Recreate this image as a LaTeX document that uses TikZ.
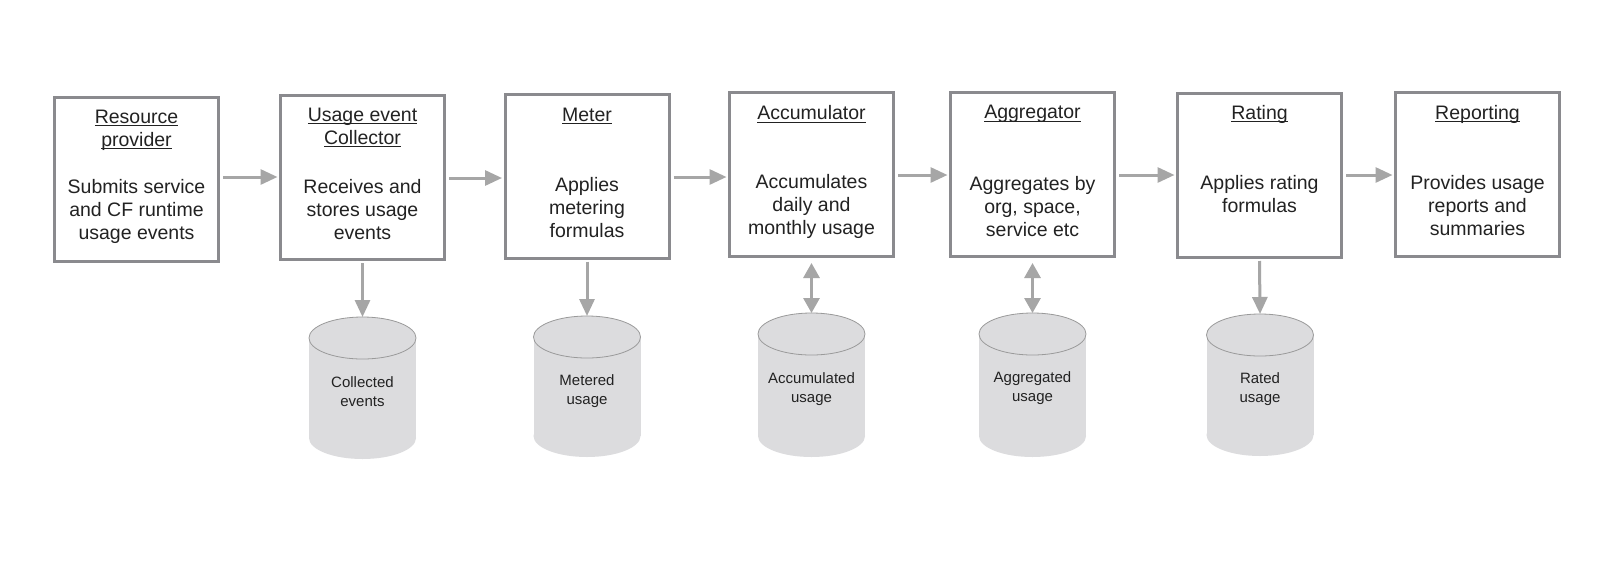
\documentclass[tikz,border=0pt]{standalone}
\usepackage{fontspec}
\setmainfont{Liberation Sans}
\usetikzlibrary{arrows.meta}
\definecolor{boxgray}{HTML}{8A8A8E}
\definecolor{arrgray}{HTML}{A6A6A6}
\definecolor{cylfill}{HTML}{DCDCDE}
\definecolor{cylline}{HTML}{9A9A9A}
\definecolor{txt}{HTML}{222222}
\newcommand\myul[1]{\setbox0\hbox{#1}\rlap{\rule[-3pt]{\wd0}{0.9pt}}\box0}
\newcommand\drawcyl[6]{%
  \fill[cylfill] (#2-53.5,#3+21) rectangle (#2+53.5,#4-21);
  \fill[cylfill] (#2,#4-21) ellipse[x radius=53.5, y radius=21];
  \filldraw[fill=cylfill, draw=cylline, line width=0.8pt] (#2,#3+21) ellipse[x radius=53.5, y radius=21];
  \coordinate (#1top) at (#2,#3);
  \node[cyltext] (#1) at (#2,#5) {#6};
}
\tikzset{
  procbox/.style={draw=boxgray, line width=3pt, minimum width=164pt, minimum height=164pt, inner sep=0pt},
  titletext/.style={align=center, text=txt, font=\fontsize{19.5}{23}\selectfont, inner sep=0pt},
  bodytext/.style={align=center, text=txt, font=\fontsize{19.5}{23}\selectfont, inner sep=0pt},
  cyltext/.style={align=center, text=txt, font=\fontsize{15}{19}\selectfont, inner sep=0pt},
  flow/.style={draw=arrgray, line width=3pt, -{Triangle[length=17pt,width=15pt]}},
  biflow/.style={draw=arrgray, line width=3pt, {Triangle[length=15pt,width=16pt]}-{Triangle[length=15pt,width=16pt]}},
}
\begin{document}
\begin{tikzpicture}[x=1pt,y=-1pt]
\fill[white] (0,0) rectangle (1600,560);
\useasboundingbox (0,0) rectangle (1600,560);

% cylinders
\drawcyl{c1}{362.5}{317}{459}{392}{Collected\\events}
\drawcyl{c2}{587}{316}{457}{391}{Metered\\usage}
\drawcyl{c3}{811.5}{313}{457}{389.5}{Accumulated\\usage}
\drawcyl{c4}{1032.5}{313}{457}{388.5}{Aggregated\\usage}
\drawcyl{c5}{1260}{314}{456}{389.5}{Rated\\usage}

% boxes
\node[procbox] (b1) at (136.5,179.5) {};
\node[procbox] (b2) at (362.5,177.5) {};
\node[procbox] (b3) at (587,176) {};
\node[procbox] (b4) at (811.5,174.5) {};
\node[procbox] (b5) at (1032.5,174.5) {};
\node[procbox] (b6) at (1259.5,175.5) {};
\node[procbox] (b7) at (1477.5,174) {};

% titles
\node[titletext] (t1) at (136.5,130) {\myul{Resource}\\\myul{provider}};
\node[titletext] (t2) at (362.5,127.5) {\myul{Usage event}\\\myul{Collector}};
\node[titletext] (t3) at (587,116) {\myul{Meter}};
\node[titletext] (t4) at (811.5,114) {\myul{Accumulator}};
\node[titletext] (t5) at (1032.5,114) {\myul{Aggregator}};
\node[titletext] (t6) at (1259.5,114) {\myul{Rating}};
\node[titletext] (t7) at (1477.5,114) {\myul{Reporting}};

% bodies
\node[bodytext] (d1) at (136.5,211) {Submits service\\and CF runtime\\usage events};
\node[bodytext] (d2) at (362.5,210) {Receives and\\stores usage\\events};
\node[bodytext] (d3) at (587,207.5) {Applies\\metering\\formulas};
\node[bodytext] (d4) at (811.5,206) {Accumulates\\daily and\\monthly usage};
\node[bodytext] (d5) at (1032.5,206.5) {Aggregates by\\org, space,\\service etc};
\node[bodytext] (d6) at (1259.5,194.5) {Applies rating\\formulas};
\node[bodytext] (d7) at (1477.5,205.5) {Provides usage\\reports and\\summaries};

% arrow levels
\coordinate (y1) at (0,177);
\coordinate (y2) at (0,178);
\coordinate (y3) at (0,177);
\coordinate (y4) at (0,175);
\coordinate (y5) at (0,175);
\coordinate (y6) at (0,175);

\draw[flow, shorten <=3pt, shorten >=1.5pt] (b1.east |- y1) -- (b2.west |- y1);
\draw[flow, shorten <=3pt, shorten >=1.5pt] (b2.east |- y2) -- (b3.west |- y2);
\draw[flow, shorten <=3pt, shorten >=1.5pt] (b3.east |- y3) -- (b4.west |- y3);
\draw[flow, shorten <=3pt, shorten >=1.5pt] (b4.east |- y4) -- (b5.west |- y4);
\draw[flow, shorten <=3pt, shorten >=1.5pt] (b5.east |- y5) -- (b6.west |- y5);
\draw[flow, shorten <=3pt, shorten >=1.5pt] (b6.east |- y6) -- (b7.west |- y6);

\draw[flow, shorten <=2pt] (b2.south) -- (c1top);
\draw[flow, shorten <=2pt] (b3.south) -- (c2top);
\draw[biflow, shorten <=5pt] (b4.south) -- (c3top);
\draw[biflow, shorten <=5pt] (b5.south) -- (c4top);
\draw[flow, shorten <=2pt] (b6.south) -- (c5top);
\end{tikzpicture}
\end{document}
